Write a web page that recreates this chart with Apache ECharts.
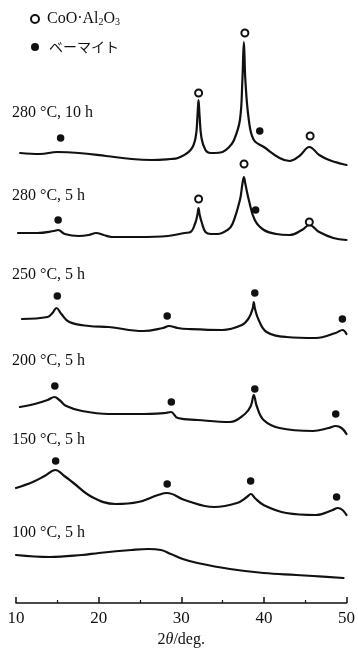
<!DOCTYPE html>
<html>
<head>
<meta charset="utf-8">
<script src="https://cdn.jsdelivr.net/npm/echarts@6/dist/echarts.min.js"></script>
<style>
html,body{margin:0;padding:0;background:#fff;}
#chart{width:358px;height:653px;}
</style>
</head>
<body>
<div id="chart"></div>
<script>
// ---- data ----
var patternLabels = ['280 °C, 10 h', '280 °C, 5 h', '250 °C, 5 h', '200 °C, 5 h', '150 °C, 5 h', '100 °C, 5 h'];
var offsets = [440, 363, 263, 163, 83, 23];

var theta280_10 = [10.5, 12.9, 15.0, 17.6, 20.9, 24.0, 26.4, 28.7, 29.6, 31.13, 31.73, 31.97, 32.09, 32.21, 32.45, 32.93, 33.52, 34.0, 35.0, 35.8, 36.39, 37.1, 37.4, 37.58, 37.76, 38.18, 38.78, 40.0, 41.9, 43.1, 44.3, 45.5, 46.7, 47.9, 49.5, 50.0];
var int280_10 = [10, 9, 11, 10, 7, 4, 3, 4, 5, 13, 25, 48, 63, 48, 25, 13, 10, 10, 11, 16, 23, 43, 83, 121, 83, 43, 23, 16, 5, 2, 7, 16, 8, 3, -1, -2];

var theta280_5 = [10.24, 12.6, 14.6, 15.1, 15.9, 17.6, 18.8, 19.7, 20.6, 21.6, 24.8, 28.4, 30.4, 31.13, 31.7, 31.97, 32.09, 32.21, 32.5, 32.93, 33.6, 34.4, 35.6, 36.2, 37.1, 37.4, 37.58, 37.76, 38.18, 38.9, 40.0, 41.5, 43.1, 44.6, 45.5, 46.7, 48.4, 50.0];
var int280_5 = [7, 7, 9, 10, 6, 4, 5, 7, 5, 3, 3, 4, 7, 8, 17, 26, 32, 26, 17, 8, 6, 6, 10, 16, 40, 56, 63, 56, 40, 20, 10, 6, 5, 10, 15, 8, 2, 0];

var theta250 = [10.72, 13.82, 14.42, 14.9, 15.49, 16.45, 18.84, 21.22, 25.4, 27.79, 28.51, 29.58, 30.78, 34.96, 37.34, 38.18, 38.66, 38.78, 38.9, 39.37, 40.33, 42.72, 46.3, 48.69, 49.52, 50.0];
var int250 = [21, 23, 27, 32, 26, 18, 14, 13, 9, 12, 14, 12, 11, 10, 15, 22, 32, 38, 32, 20, 8, 3, 2, 7, 10, 6];

var theta200 = [10.48, 12.27, 13.82, 14.66, 15.25, 16.09, 18.0, 21.22, 24.8, 28.03, 28.75, 29.58, 31.97, 35.9, 37.7, 38.42, 38.78, 39.13, 39.97, 41.88, 45.94, 47.85, 48.69, 49.4, 50.0];
var int200 = [33, 36, 40, 43, 40, 34, 29, 26, 26, 27, 28, 22, 20, 18, 26, 34, 45, 34, 20, 12, 9, 12, 14, 12, 6];

var theta150 = [10.0, 12.03, 13.46, 14.78, 15.85, 16.81, 19.19, 22.06, 24.8, 27.19, 28.27, 30.42, 34.0, 36.75, 37.94, 38.42, 38.9, 39.97, 42.72, 46.3, 48.33, 48.93, 49.52, 50.0];
var int150 = [32, 38, 44, 50, 44, 38, 23, 16, 18, 25, 27, 20, 13, 17, 23, 26, 22, 15, 7, 5, 10, 12, 10, 5];

var theta100 = [10.0, 14.06, 18.0, 20.03, 23.97, 26.0, 27.55, 28.75, 30.18, 31.97, 35.9, 39.97, 43.9, 45.94, 49.64];
var int100 = [25, 23, 25, 27, 30, 31, 30, 26, 21, 17, 11, 7, 5, 4, 2];

// peak markers: [pattern index, 2θ, marker height]
var spinelMarks = [[0, 32.1, 70], [0, 37.7, 130], [0, 45.6, 27], [1, 32.1, 41], [1, 37.6, 76], [1, 45.5, 18]];
var boehmiteMarks = [[0, 15.4, 25], [0, 39.5, 32], [1, 15.1, 20], [1, 39.0, 30],
  [2, 15.0, 44], [2, 28.3, 24], [2, 38.9, 47], [2, 49.5, 21],
  [3, 14.7, 54], [3, 28.8, 38], [3, 38.9, 51], [3, 48.7, 26],
  [4, 14.8, 59], [4, 28.3, 36], [4, 38.4, 39], [4, 48.8, 23]];

var xTicks = [10, 20, 30, 40, 50];
var legendNames = ['CoO·Al2O3', 'ベーマイト'];

// ---- build ----
var thetas = [theta280_10, theta280_5, theta250, theta200, theta150, theta100];
var ints = [int280_10, int280_5, int250, int200, int150, int100];
var ink = '#111';
var serif = '"Liberation Serif", "DejaVu Serif", serif';

var series = [];
thetas.forEach(function (th, i) {
  series.push({
    type: 'line',
    name: patternLabels[i],
    data: th.map(function (t, k) { return [t, ints[i][k] + offsets[i]]; }),
    showSymbol: false,
    smooth: 0.4,
    lineStyle: { color: ink, width: 2.2, join: 'round', cap: 'round' },
    silent: true,
    z: 2
  });
});
function marks(arr) {
  return arr.map(function (m) { return [m[1], m[2] + offsets[m[0]]]; });
}
series.push({
  type: 'scatter', name: legendNames[0], data: marks(spinelMarks),
  symbol: 'circle', symbolSize: 7, clip: false, z: 3,
  itemStyle: { color: '#fff', borderColor: ink, borderWidth: 2, opacity: 1 }
});
series.push({
  type: 'scatter', name: legendNames[1], data: marks(boehmiteMarks),
  symbol: 'circle', symbolSize: 7.5, clip: false, z: 3,
  itemStyle: { color: ink, opacity: 1 }
});

var graphics = [];
var labelY = [113, 196, 275, 361, 440, 533];
patternLabels.forEach(function (lab, i) {
  graphics.push({
    type: 'text', x: 12, y: labelY[i],
    style: { text: lab, font: '16px ' + serif, fill: ink, verticalAlign: 'middle' }
  });
});

var chart = echarts.init(document.getElementById('chart'), null, { renderer: 'canvas' });
chart.setOption({
  animation: false,
  backgroundColor: '#fff',
  grid: { left: 16, right: 7, top: 3, bottom: 50, containLabel: false },
  legend: {
    data: legendNames,
    orient: 'vertical',
    left: 25, top: 5,
    itemWidth: 14, itemHeight: 8, itemGap: 10,
    selectedMode: false,
    formatter: function (n) {
      if (n === legendNames[0]) return '{t|CoO·Al}{s|2}{t|O}{s|3}';
      return '{j|' + n + '}';
    },
    textStyle: {
      color: ink, lineHeight: 18,
      rich: {
        t: { fontFamily: serif, fontSize: 16, color: ink, lineHeight: 18 },
        s: { fontFamily: serif, fontSize: 10, color: ink, lineHeight: 18, padding: [7, 0, 0, 0] },
        j: { fontFamily: '"Noto Sans CJK JP"', fontSize: 14, color: ink, lineHeight: 18, padding: [0, 0, 0, 2] }
      }
    }
  },
  xAxis: {
    type: 'value', min: 10, max: 50, interval: 10,
    name: '{a|2}{b|θ}{a|/deg.}', nameLocation: 'middle', nameGap: 29,
    nameTextStyle: {
      rich: {
        a: { fontFamily: serif, fontSize: 16, color: ink },
        b: { fontFamily: serif, fontSize: 16, fontStyle: 'italic', color: ink }
      }
    },
    axisLine: { show: true, lineStyle: { color: ink, width: 1.5 } },
    axisTick: { show: true, inside: true, length: 6, lineStyle: { color: ink, width: 1.5 }, customValues: xTicks },
    minorTick: { show: true, splitNumber: 2, length: 3, lineStyle: { color: ink, width: 1.2 } },
    axisLabel: { color: ink, fontFamily: serif, fontSize: 17, margin: 7, customValues: xTicks },
    splitLine: { show: false },
    minorSplitLine: { show: false }
  },
  yAxis: { type: 'value', min: 0, max: 600, show: false },
  series: series,
  graphic: graphics
});
</script>
</body>
</html>
